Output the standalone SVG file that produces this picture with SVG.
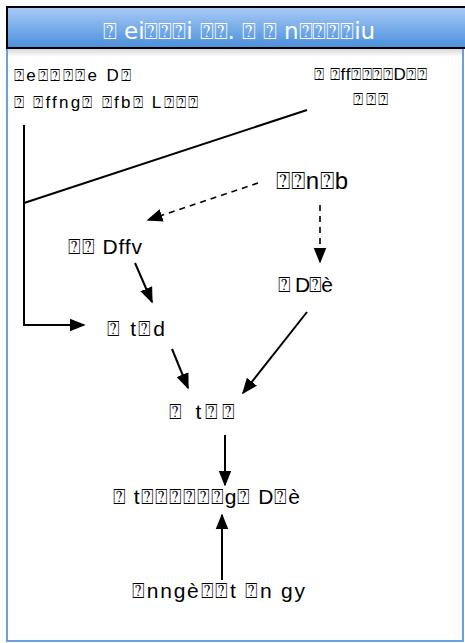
<svg xmlns="http://www.w3.org/2000/svg" width="465" height="643" viewBox="0 0 465 643">
<style>
.t{font-family:"Liberation Sans","DejaVu Sans",sans-serif;fill:#000;}
.ln{stroke:#000;stroke-width:2;fill:none;}
.dash{stroke:#000;stroke-width:1.6;fill:none;stroke-dasharray:6,5;}
</style>
<defs>
<linearGradient id="hg" x1="0" y1="0" x2="0" y2="1">
<stop offset="0" stop-color="#a9cbf7"/>
<stop offset="1" stop-color="#4a8fdb"/>
</linearGradient>
<linearGradient id="sh" x1="0" y1="0" x2="0" y2="1">
<stop offset="0" stop-color="#d8d8d8"/>
<stop offset="1" stop-color="#ffffff"/>
</linearGradient>
<marker id="ahb" viewBox="0 0 10 10" refX="9" refY="5" markerWidth="16" markerHeight="16" orient="auto" markerUnits="userSpaceOnUse">
<path d="M0,1 L10,5 L0,9 z" fill="#000"/>
</marker>
</defs>
<g id="frame">
<rect x="7" y="48" width="456" height="593" fill="#fff" stroke="#6a9fe0" stroke-width="2"/>
<rect x="8" y="49" width="454" height="8" fill="url(#sh)"/>
<rect x="7" y="7" width="460" height="41" fill="url(#hg)" stroke="#000" stroke-width="2"/>
<text x="103" y="39" font-size="23" font-family="'DejaVu Sans',sans-serif" fill="#fff" textLength="272" lengthAdjust="spacing">⍰ ei⍰⍰⍰i ⍰⍰. ⍰ ⍰ n⍰⍰⍰⍰iu</text>
</g>
<g id="connectors">
<line class="ln" x1="307" y1="110" x2="24" y2="203"/>
<polyline class="ln" points="24,125 24,325 84,325" marker-end="url(#ahb)"/>
<line class="dash" x1="258" y1="183" x2="148" y2="220" marker-end="url(#ahb)"/>
<line class="dash" x1="320" y1="205" x2="320" y2="262" marker-end="url(#ahb)"/>
<line class="ln" x1="135" y1="263" x2="152" y2="302" marker-end="url(#ahb)"/>
<line class="ln" x1="307" y1="312" x2="243" y2="393" marker-end="url(#ahb)"/>
<line class="ln" x1="172" y1="349" x2="188" y2="388" marker-end="url(#ahb)"/>
<line class="ln" x1="225" y1="435" x2="225" y2="485" marker-end="url(#ahb)"/>
<line class="ln" x1="222" y1="580" x2="222" y2="515" marker-end="url(#ahb)"/>
</g>
<g id="note-left">
<text class="t" x="14" y="81" font-size="17" textLength="117" lengthAdjust="spacing">⍰e⍰⍰⍰⍰e D⍰</text>
<text class="t" x="14" y="108" font-size="17" textLength="184" lengthAdjust="spacing">⍰ ⍰ffng⍰ ⍰fb⍰ L⍰⍰⍰</text>
</g>
<g id="note-right">
<text class="t" x="314" y="80" font-size="17" textLength="113" lengthAdjust="spacing">⍰ ⍰ff⍰⍰⍰⍰D⍰⍰</text>
<text class="t" x="353" y="105" font-size="17" textLength="35" lengthAdjust="spacing">⍰⍰⍰</text>
</g>
<g id="n1"><text class="t" x="276" y="189" font-size="24" textLength="72" lengthAdjust="spacing">⍰⍰n⍰b</text></g>
<g id="n2"><text class="t" x="68" y="254" font-size="21" textLength="74" lengthAdjust="spacing">⍰⍰ Dffv</text></g>
<g id="n3"><text class="t" x="278" y="292" font-size="21" textLength="55" lengthAdjust="spacing">⍰ D⍰è</text></g>
<g id="n4"><text class="t" x="107" y="336" font-size="21" textLength="58" lengthAdjust="spacing">⍰ t⍰d</text></g>
<g id="n5"><text class="t" x="169" y="419" font-size="21" textLength="66" lengthAdjust="spacing">⍰ t⍰⍰</text></g>
<g id="n6"><text class="t" x="113" y="504" font-size="21" textLength="187" lengthAdjust="spacing">⍰ t⍰⍰⍰⍰⍰⍰g⍰ D⍰è</text></g>
<g id="n7"><text class="t" x="132" y="598" font-size="21" textLength="173" lengthAdjust="spacing">⍰nngè⍰⍰t ⍰n gy</text></g>
</svg>
